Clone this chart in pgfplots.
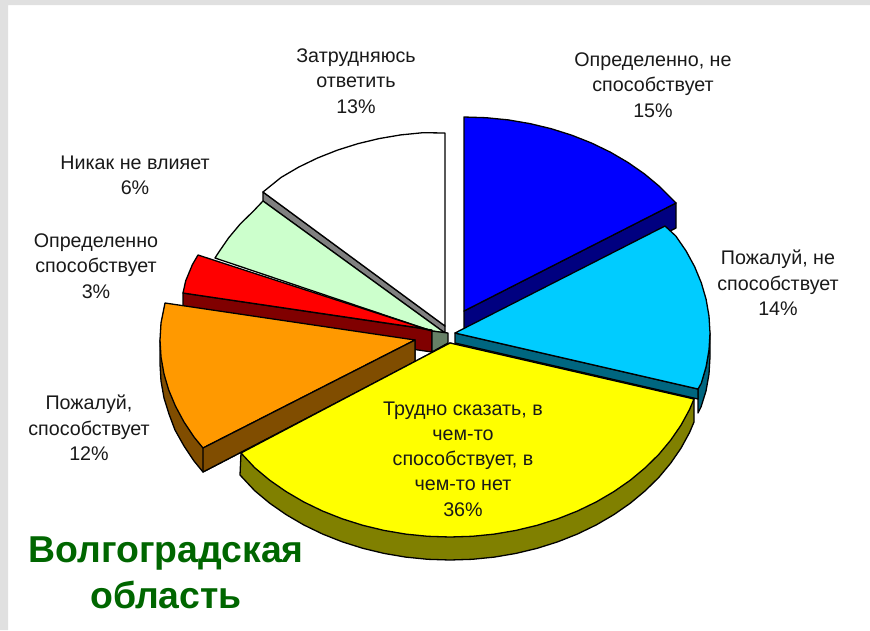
\documentclass[border=0pt]{standalone}
\usepackage{fontspec}
\setmainfont{Liberation Sans}
\usepackage{pgfplots}
\pgfplotsset{compat=1.18}
\definecolor{bluetop}{HTML}{0000FF}
\definecolor{blueside}{HTML}{000080}
\definecolor{cyantop}{HTML}{00CCFF}
\definecolor{cyanside}{HTML}{006680}
\definecolor{yellowtop}{HTML}{FFFF00}
\definecolor{yellowside}{HTML}{808000}
\definecolor{orangetop}{HTML}{FF9900}
\definecolor{orangeside}{HTML}{804D00}
\definecolor{redtop}{HTML}{FF0000}
\definecolor{redside}{HTML}{800000}
\definecolor{greentop}{HTML}{CCFFCC}
\definecolor{greenside}{HTML}{668066}
\definecolor{whiteside}{HTML}{808080}
\definecolor{titlegreen}{HTML}{006600}
\definecolor{pagegray}{HTML}{E0E0E0}
\tikzset{
    slice/.style={draw=black, line width=1.3pt, line join=round},
    lab/.style={align=center, text=black!90, font=\fontsize{19.7}{25.3}\selectfont},
}
\begin{document}
\begin{tikzpicture}
\begin{axis}[
    scale only axis, width=870pt, height=630pt,
    xmin=0, xmax=870, ymin=0, ymax=630,
    y dir=reverse, hide axis,
]
% page background strips
\addplot[fill=pagegray, draw=none] coordinates {(0,0) (870,0) (870,5) (8,5) (8,630) (0,630)} --cycle;

% white slice
\addplot[slice, fill=whiteside] coordinates {(263,192) (263,201) (445,333) (445,326)} --cycle;
\addplot[slice, fill=white] coordinates {(445,326) (445,133) (422.8,132.7) (400.7,134.9) (379,138.6) (357.8,143.7) (337.2,150.2) (317.5,158) (298.7,167.1) (281.1,177.4) (263,192)} --cycle;
% light green slice
\addplot[slice, fill=greentop] coordinates {(445,333) (263,201) (253.5,211) (240.2,224) (228.5,238) (218.4,252.7) (215,258) (432,331)} --cycle;
% red slice
\addplot[slice, fill=redside] coordinates {(183,293) (432,330) (432,352) (183,316)} --cycle;
\addplot[slice, fill=redtop] coordinates {(198,255) (192.4,264.6) (185.7,280.8) (183,293) (420,328) (432,331)} --cycle;
\addplot[slice, fill=greenside] coordinates {(432,331) (448,333) (448,343) (432,352)} --cycle;
% orange slice
\addplot[slice, fill=orangeside] coordinates {(160,340) (160,364) (161,381) (164,398) (169,414) (175,430) (184,446) (194,461) (203,472) (415,362) (415,340)} --cycle;
\addplot[slice, fill=orangetop] coordinates {(415,340) (165,303) (161,323) (160,340) (161,357) (164,374) (168.7,390) (175.4,406) (184,422) (194,437) (203,448)} --cycle;
\addplot[slice, fill=orangeside] coordinates {(203,448) (203,472) (415,362) (415,340)} --cycle;
% blue slice
\addplot[slice, fill=blueside] coordinates {(464,311) (464,336) (676,228) (676,203)} --cycle;
\addplot[slice, fill=bluetop] coordinates {(464,311) (464,117) (486.2,117.7) (508.3,119.9) (530,123.6) (551.2,128.7) (571.8,135.2) (591.5,143) (610.3,152.1) (627.9,162.4) (644.3,173.8) (659.3,186.3) (676,203)} --cycle;
% cyan slice
\addplot[slice, fill=cyanside] coordinates {(710,333) (709,350) (706,367) (701,383) (698,389) (698,413) (701,407) (706,391) (709,374) (710,357)} --cycle;
\addplot[slice, fill=cyanside] coordinates {(455,333) (455,343) (698,399) (698,389)} --cycle;
\addplot[slice, fill=cyantop] coordinates {(455,333) (665,226) (675.8,236) (686.1,251) (694.6,266.6) (701.3,282.8) (706.1,299.3) (709,316.1) (710,333) (709,349.9) (706.1,366.7) (701.3,383.2) (698,389)} --cycle;
% yellow slice
\addplot[slice, fill=yellowside] coordinates {(694,399) (694,422) (689.6,432.4) (681.1,448) (670.8,463) (658.9,477.3) (645.3,490.7) (630.3,503.2) (613.9,514.6) (596.3,524.9) (577.5,534) (557.8,541.8) (537.2,548.3) (516,553.4) (494.3,557.1) (472.2,559.3) (450,560) (427.8,559.3) (405.7,557.1) (384,553.4) (362.8,548.3) (342.2,541.8) (322.5,534) (303.7,524.9) (286.1,514.6) (269.7,503.2) (254.7,490.7) (240,475) (241,453) (450,343)} --cycle;
\addplot[slice, fill=yellowtop] coordinates {(450,343) (694,399) (689.6,409.4) (681.1,425) (670.8,440) (658.9,454.3) (645.3,467.7) (630.3,480.2) (613.9,491.6) (596.3,501.9) (577.5,511) (557.8,518.8) (537.2,525.3) (516,530.4) (494.3,534.1) (472.2,536.3) (450,537) (427.8,536.3) (405.7,534.1) (384,530.4) (362.8,525.3) (342.2,518.8) (322.5,511) (303.7,501.9) (286.1,491.6) (269.7,480.2) (254.7,467.7) (241,453)} --cycle;

\node[lab] at (axis cs:653,85) {Определенно, не\\способствует\\15\%};
\node[lab] at (axis cs:778,283) {Пожалуй, не\\способствует\\14\%};
\node[lab] at (axis cs:463,459) {Трудно сказать, в\\чем-то\\способствует, в\\чем-то нет\\36\%};
\node[lab] at (axis cs:89,428) {Пожалуй,\\способствует\\12\%};
\node[lab] at (axis cs:96,266) {Определенно\\способствует\\3\%};
\node[lab] at (axis cs:135,175) {Никак не влияет\\6\%};
\node[lab] at (axis cs:356,81) {Затрудняюсь\\ответить\\13\%};
\node[align=center, text=titlegreen, font=\fontsize{37.4}{46}\selectfont\bfseries] at (axis cs:166,573) {Волгоградская\\область};
\end{axis}
\end{tikzpicture}
\end{document}
